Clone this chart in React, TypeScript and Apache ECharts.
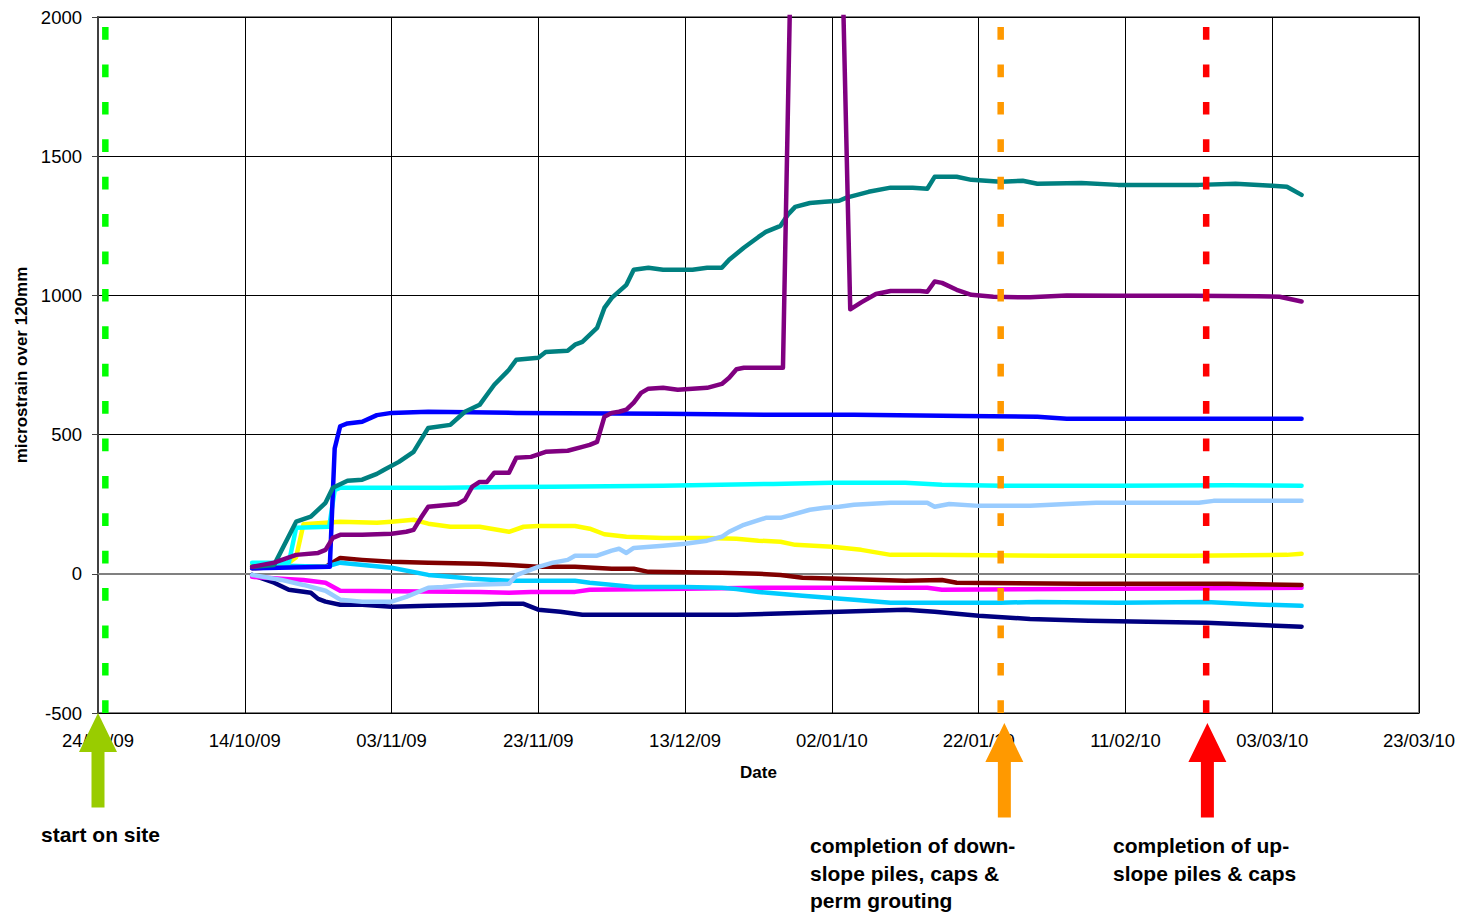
import React, { useEffect, useRef } from "react";
import * as echarts from "echarts";

// ---- axis definitions ----
const X_ORIGIN = "2009-09-24";
const X_END = "2010-03-23";
const X_TICK_DAYS = 20;
const Y_MIN = -500;
const Y_MAX = 2000;
const Y_STEP = 500;

// ---- series (date, microstrain) ----
const tealData: [string, number][] = [
  ["2009-10-15", 25], ["2009-10-18", 32], ["2009-10-21", 187], ["2009-10-23", 205], ["2009-10-25", 255],
  ["2009-10-26", 309], ["2009-10-28", 334], ["2009-10-30", 338], ["2009-11-01", 359], ["2009-11-02", 374],
  ["2009-11-04", 402], ["2009-11-06", 438], ["2009-11-08", 524], ["2009-11-11", 535], ["2009-11-13", 582],
  ["2009-11-15", 607], ["2009-11-16", 643], ["2009-11-17", 679], ["2009-11-19", 733], ["2009-11-20", 769],
  ["2009-11-23", 776], ["2009-11-24", 797], ["2009-11-27", 801], ["2009-11-28", 823], ["2009-11-29", 833],
  ["2009-12-01", 883], ["2009-12-02", 955], ["2009-12-03", 991], ["2009-12-05", 1038], ["2009-12-06", 1092],
  ["2009-12-08", 1099], ["2009-12-10", 1092], ["2009-12-14", 1092], ["2009-12-16", 1099], ["2009-12-18", 1099],
  ["2009-12-19", 1128], ["2009-12-21", 1171], ["2009-12-23", 1210], ["2009-12-24", 1228], ["2009-12-26", 1250],
  ["2009-12-27", 1290], ["2009-12-28", 1318], ["2009-12-30", 1332], ["2010-01-01", 1336], ["2010-01-03", 1340],
  ["2010-01-04", 1351], ["2010-01-07", 1372], ["2010-01-10", 1387], ["2010-01-13", 1387], ["2010-01-15", 1383],
  ["2010-01-16", 1426], ["2010-01-19", 1426], ["2010-01-21", 1415], ["2010-01-25", 1408], ["2010-01-28", 1412],
  ["2010-01-30", 1401], ["2010-02-05", 1404], ["2010-02-10", 1397], ["2010-02-21", 1397], ["2010-02-26", 1401],
  ["2010-03-03", 1394], ["2010-03-05", 1390], ["2010-03-07", 1361],
];

const purpleData: [string, number][] = [
  ["2009-10-15", 25], ["2009-10-18", 40], ["2009-10-21", 68], ["2009-10-24", 75], ["2009-10-25", 86],
  ["2009-10-26", 129], ["2009-10-27", 140], ["2009-10-30", 140], ["2009-11-03", 144], ["2009-11-05", 151],
  ["2009-11-06", 158], ["2009-11-07", 201], ["2009-11-08", 241], ["2009-11-12", 251], ["2009-11-13", 266],
  ["2009-11-14", 313], ["2009-11-15", 330], ["2009-11-16", 330], ["2009-11-17", 363], ["2009-11-19", 363],
  ["2009-11-20", 417], ["2009-11-22", 420], ["2009-11-24", 438], ["2009-11-27", 442], ["2009-11-29", 456],
  ["2009-11-30", 463], ["2009-12-01", 474], ["2009-12-02", 564], ["2009-12-03", 578], ["2009-12-04", 582],
  ["2009-12-05", 590], ["2009-12-06", 615], ["2009-12-07", 650], ["2009-12-08", 665], ["2009-12-10", 668],
  ["2009-12-12", 661], ["2009-12-14", 665], ["2009-12-16", 668], ["2009-12-18", 682], ["2009-12-19", 704],
  ["2009-12-20", 735], ["2009-12-21", 740], ["2009-12-26 08:00", 740], ["2009-12-27 06:00", 2000],
  ["2009-12-28", 3000], ["2010-01-02", 3000], ["2010-01-03 12:00", 2100], ["2010-01-04 12:00", 950],
  ["2010-01-06", 975], ["2010-01-08", 1005], ["2010-01-10", 1016], ["2010-01-14", 1016], ["2010-01-15", 1013],
  ["2010-01-16", 1050], ["2010-01-17", 1045], ["2010-01-19", 1020], ["2010-01-21", 1002], ["2010-01-24", 995],
  ["2010-01-29", 993], ["2010-02-03", 1000], ["2010-02-10", 999], ["2010-02-20", 999], ["2010-03-01", 997],
  ["2010-03-04", 995], ["2010-03-07", 978],
];

const blueData: [string, number][] = [
  ["2009-10-15", 20], ["2009-10-25 14:00", 25], ["2009-10-26 06:00", 450], ["2009-10-27", 530],
  ["2009-10-28", 540], ["2009-10-30", 546], ["2009-11-01", 570], ["2009-11-03", 578], ["2009-11-08", 582],
  ["2009-11-20", 578], ["2009-12-10", 575], ["2009-12-25", 571], ["2010-01-05", 571], ["2010-01-20", 567],
  ["2010-01-30", 564], ["2010-02-03", 557], ["2010-02-20", 557], ["2010-03-07", 557],
];

const cyanData: [string, number][] = [
  ["2009-10-15", 40], ["2009-10-20", 40], ["2009-10-21", 165], ["2009-10-25 12:00", 169],
  ["2009-10-26 06:00", 300], ["2009-10-27", 309], ["2009-11-10", 309], ["2009-11-25", 313],
  ["2009-12-10", 316], ["2009-12-25", 323], ["2010-01-02", 327], ["2010-01-12", 327], ["2010-01-17", 320],
  ["2010-01-25", 316], ["2010-02-10", 316], ["2010-02-25", 318], ["2010-03-07", 316],
];

const yellowData: [string, number][] = [
  ["2009-10-15", 35], ["2009-10-20", 40], ["2009-10-21", 60], ["2009-10-22", 178], ["2009-10-27", 187],
  ["2009-11-01", 183], ["2009-11-03", 187], ["2009-11-06", 194], ["2009-11-08", 180], ["2009-11-11", 169],
  ["2009-11-15", 169], ["2009-11-19", 151], ["2009-11-21", 169], ["2009-11-23", 172], ["2009-11-28", 172],
  ["2009-11-30", 162], ["2009-12-02", 142], ["2009-12-05", 133], ["2009-12-10", 129], ["2009-12-16", 129],
  ["2009-12-20", 126], ["2009-12-23", 119], ["2009-12-26", 115], ["2009-12-28", 104], ["2010-01-02", 97],
  ["2010-01-06", 86], ["2010-01-10", 68], ["2010-01-15", 68], ["2010-02-01", 65], ["2010-02-20", 65],
  ["2010-03-05", 68], ["2010-03-07", 72],
];

const lightBlueData: [string, number][] = [
  ["2009-10-15", -4], ["2009-10-19", -22], ["2009-10-22", -40], ["2009-10-25", -61], ["2009-10-27", -93],
  ["2009-10-30", -100], ["2009-11-03", -100], ["2009-11-05", -83], ["2009-11-08", -50], ["2009-11-10", -47],
  ["2009-11-13", -40], ["2009-11-19", -36], ["2009-11-20", -5], ["2009-11-23", 25], ["2009-11-25", 40],
  ["2009-11-27", 50], ["2009-11-28", 65], ["2009-12-01", 65], ["2009-12-03", 83], ["2009-12-04", 90],
  ["2009-12-05", 75], ["2009-12-06", 93], ["2009-12-10", 101], ["2009-12-13", 108], ["2009-12-16", 119],
  ["2009-12-18", 133], ["2009-12-19", 151], ["2009-12-21", 176], ["2009-12-24", 201], ["2009-12-26", 201],
  ["2009-12-30", 230], ["2010-01-01", 237], ["2010-01-03", 241], ["2010-01-05", 248], ["2010-01-10", 255],
  ["2010-01-15", 255], ["2010-01-16", 241], ["2010-01-18", 251], ["2010-01-22", 244], ["2010-01-29", 244],
  ["2010-02-03", 251], ["2010-02-07", 255], ["2010-02-21", 255], ["2010-02-23", 262], ["2010-03-07", 262],
];

const darkRedData: [string, number][] = [
  ["2009-10-15", 20], ["2009-10-19", 25], ["2009-10-25", 25], ["2009-10-27", 57], ["2009-10-30", 50],
  ["2009-11-03", 43], ["2009-11-08", 40], ["2009-11-15", 36], ["2009-11-19", 32], ["2009-11-23", 25],
  ["2009-11-28", 25], ["2009-12-03", 18], ["2009-12-06", 18], ["2009-12-08", 7], ["2009-12-18", 4],
  ["2009-12-23", 0], ["2009-12-26", -4], ["2009-12-29", -14], ["2010-01-03", -18], ["2010-01-12", -25],
  ["2010-01-17", -22], ["2010-01-19", -32], ["2010-02-05", -36], ["2010-02-25", -36], ["2010-03-07", -40],
];

const magentaData: [string, number][] = [
  ["2009-10-15", -11], ["2009-10-19", -18], ["2009-10-22", -22], ["2009-10-25", -32], ["2009-10-27", -61],
  ["2009-11-15", -65], ["2009-11-19", -68], ["2009-11-22", -65], ["2009-11-28", -65], ["2009-11-30", -57],
  ["2009-12-13", -54], ["2009-12-23", -50], ["2010-01-15", -50], ["2010-01-17", -57], ["2010-02-10", -54],
  ["2010-03-07", -50],
];

const skyBlueData: [string, number][] = [
  ["2009-10-15", 32], ["2009-10-25", 25], ["2009-10-27", 40], ["2009-11-03", 22], ["2009-11-08", -4],
  ["2009-11-11", -11], ["2009-11-14", -18], ["2009-11-19", -25], ["2009-11-28", -25], ["2009-11-30", -32],
  ["2009-12-06", -47], ["2009-12-13", -47], ["2009-12-18", -50], ["2009-12-20", -55], ["2009-12-23", -65],
  ["2009-12-29", -79], ["2010-01-05", -93], ["2010-01-10", -104], ["2010-01-25", -104], ["2010-01-30", -101],
  ["2010-02-10", -104], ["2010-02-22", -101], ["2010-03-01", -110], ["2010-03-07", -115],
];

const navyData: [string, number][] = [
  ["2009-10-15", -4], ["2009-10-18", -32], ["2009-10-20", -57], ["2009-10-23", -68], ["2009-10-24", -90],
  ["2009-10-25", -100], ["2009-10-27", -111], ["2009-10-30", -111], ["2009-11-03", -118], ["2009-11-08", -115],
  ["2009-11-15", -111], ["2009-11-18", -108], ["2009-11-21", -108], ["2009-11-23", -129], ["2009-11-26", -136],
  ["2009-11-29", -147], ["2009-12-20", -147], ["2010-01-03", -136], ["2010-01-12", -129], ["2010-01-16", -136],
  ["2010-01-22", -151], ["2010-01-29", -162], ["2010-02-06", -169], ["2010-02-22", -176], ["2010-03-07", -190],
];

// drawing order: first is at the bottom
const seriesList = [
  { name: "navy", color: "#000080", data: navyData },
  { name: "magenta", color: "#FF00FF", data: magentaData },
  { name: "darkred", color: "#800000", data: darkRedData },
  { name: "skyblue", color: "#00CCFF", data: skyBlueData },
  { name: "yellow", color: "#FFFF00", data: yellowData },
  { name: "cyan", color: "#00FFFF", data: cyanData },
  { name: "blue", color: "#0000FF", data: blueData },
  { name: "lightblue", color: "#99CCFF", data: lightBlueData },
  { name: "teal", color: "#008080", data: tealData },
  { name: "purple", color: "#800080", data: purpleData },
];

// ---- event markers ----
const eventDates = ["2009-09-25", "2010-01-25", "2010-02-22"];
const eventLineColors = ["#00FF00", "#FF9900", "#FF0000"];
const arrowDates = ["2009-09-24", "2010-01-25 12:00", "2010-02-22 04:00"];
const arrowColors = ["#99CC00", "#FF9900", "#FF0000"];
const arrowTipOffsets = [0, 10, 10];
const eventLabels = [
  "start on site",
  "completion of down-\nslope piles, caps &\nperm grouting",
  "completion of up-\nslope piles & caps",
];

const DAY = 86400000;
function parseDate(s: string): number {
  const [d, t] = s.split(" ");
  const [y, m, dd] = d.split("-").map(Number);
  let h = 0, mi = 0;
  if (t) [h, mi] = t.split(":").map(Number);
  return Date.UTC(y, m - 1, dd, h, mi);
}
const ORIGIN_MS = parseDate(X_ORIGIN);
const toDay = (s: string) => (parseDate(s) - ORIGIN_MS) / DAY;
const pad = (n: number) => (n < 10 ? "0" + n : "" + n);
function fmtDay(v: number): string {
  const d = new Date(ORIGIN_MS + Math.round(v) * DAY);
  return pad(d.getUTCDate()) + "/" + pad(d.getUTCMonth() + 1) + "/" + pad(d.getUTCFullYear() % 100);
}

const FONT = 'Arial, "Liberation Sans", Helvetica, sans-serif';

export default function App() {
  const ref = useRef<HTMLDivElement>(null);
  useEffect(() => {
    document.body.style.margin = "0";
    const chart = echarts.init(ref.current!, null, { renderer: "svg" });

    const lineSeries = seriesList.map((s) => ({
      type: "line",
      name: s.name,
      data: s.data.map(([d, v]) => [toDay(d), v]),
      symbol: "none",
      showSymbol: false,
      lineStyle: { color: s.color, width: 4.5, cap: "round", join: "round" },
      itemStyle: { color: s.color },
      z: 3,
      clip: true,
    }));

    const eventSeries = eventDates.map((d, i) => ({
      type: "line",
      name: "event" + i,
      data: [[toDay(d), Y_MIN], [toDay(d), Y_MAX]],
      symbol: "none",
      showSymbol: false,
      lineStyle: { color: eventLineColors[i], width: 6.5, type: [12.7, 24.7], dashOffset: 0, cap: "butt" },
      z: 4,
    }));

    chart.setOption({
      animation: false,
      textStyle: { fontFamily: FONT },
      grid: {
        left: 98, top: 17, right: 41, bottom: 200,
        show: true, borderColor: "#808080", borderWidth: 2,
        containLabel: false, outerBoundsMode: "none",
      },
      xAxis: {
        type: "value",
        min: 0,
        max: toDay(X_END),
        interval: X_TICK_DAYS,
        axisLine: { show: true, lineStyle: { color: "#808080", width: 2 } },
        axisTick: { show: false },
        axisLabel: { fontSize: 18.5, color: "#000", margin: 18, fontFamily: FONT, formatter: (v: number) => fmtDay(v) },
        splitLine: { show: true, lineStyle: { color: "#000", width: 1 } },
        name: "Date",
        nameLocation: "middle",
        nameGap: 51,
        nameTextStyle: { fontSize: 17, fontWeight: "bold", color: "#000", fontFamily: FONT },
      },
      yAxis: {
        type: "value",
        min: Y_MIN,
        max: Y_MAX,
        interval: Y_STEP,
        axisLine: { show: true, lineStyle: { color: "#404040", width: 2 } },
        axisTick: { show: true, length: 6, lineStyle: { color: "#404040", width: 1 } },
        axisLabel: { fontSize: 18.5, color: "#000", margin: 16, fontFamily: FONT, formatter: (v: number) => String(v) },
        splitLine: { show: true, lineStyle: { color: "#000", width: 1 } },
        name: "microstrain over 120mm",
        nameLocation: "middle",
        nameGap: 68,
        nameTextStyle: { fontSize: 17, fontWeight: "bold", color: "#000", fontFamily: FONT },
      },
      series: [...lineSeries, ...eventSeries],
    });

    const axisY = chart.convertToPixel({ yAxisIndex: 0 }, Y_MIN) as number;
    const graphics: any[] = [];
    arrowDates.forEach((d, i) => {
      const x = chart.convertToPixel({ xAxisIndex: 0 }, toDay(d)) as number;
      const tip = axisY + arrowTipOffsets[i];
      const headLen = 39, headHalf = 19, shaftHalf = 6.5, total = 94.5;
      graphics.push({
        type: "polygon",
        z: 100,
        shape: {
          points: [
            [x, tip],
            [x + headHalf, tip + headLen],
            [x + shaftHalf, tip + headLen],
            [x + shaftHalf, tip + total],
            [x - shaftHalf, tip + total],
            [x - shaftHalf, tip + headLen],
            [x - headHalf, tip + headLen],
          ],
        },
        style: { fill: arrowColors[i] },
      });
    });
    const labelPos = [[41, 821], [810, 832], [1113, 832]];
    eventLabels.forEach((t, i) => {
      graphics.push({
        type: "text",
        z: 100,
        x: labelPos[i][0],
        y: labelPos[i][1],
        style: {
          text: t,
          fontSize: 21,
          fontWeight: "bold",
          fontFamily: FONT,
          fill: "#000",
          lineHeight: 27.5,
          verticalAlign: "top",
          align: "left",
        },
      });
    });
    chart.setOption({ graphic: graphics });

    return () => chart.dispose();
  }, []);
  return <div ref={ref} style={{ width: 1460, height: 913 }} />;
}
